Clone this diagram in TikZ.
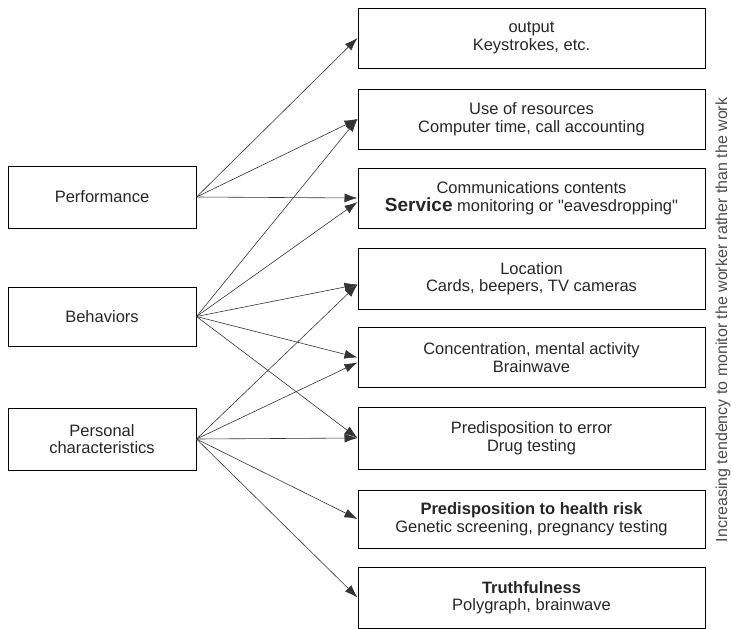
\documentclass[tikz,border=0pt]{standalone}
\usepackage{fontspec}
\setmainfont[Ligatures=NoCommon]{Liberation Sans}
\usetikzlibrary{arrows.meta}
\tikzset{
    >={Latex[length=13pt,width=9pt]},
    box/.style = {draw, line width = 1pt, minimum width = 347pt, minimum height = 60pt,
                  inner sep = 0pt, align = center, text = black!85,
                  font = \fontsize{16.5}{17.5}\selectfont},
    srcbox/.style = {box, minimum width = 188pt},
    link/.style = {->, line width = 0.6pt, black!80}
}
\begin{document}
\begin{tikzpicture}[x = 1pt, y = -1pt]
                \useasboundingbox (0,0) rectangle (731,629);
                % sources
                \node[srcbox, minimum height = 62pt] (perf) at (102,197) {Performance};
                \node[srcbox, minimum height = 59pt] (beh) at (102,316.5) {Behaviors};
                \node[srcbox, minimum height = 62pt] (pers) at (102,439) {Personal\\characteristics};
                % what is monitored
                \node[box] (out) at (531.5,38) {output\\Keystrokes, etc.};
                \node[box] (use) at (531.5,119) {Use of resources\\Computer time, call accounting};
                \node[box] (comm) at (531.5,198) {Communications contents\\{\fontsize{19}{17.5}\selectfont\bfseries Service} monitoring or \textquotedbl eavesdropping\textquotedbl};
                \node[box, minimum height = 61pt] (loc) at (531.5,278.5) {Location\\Cards, beepers, TV cameras};
                \node[box] (conc) at (531.5,357.5) {Concentration, mental activity\\Brainwave};
                \node[box, minimum height = 62pt] (err) at (531.5,438) {Predisposition to error\\Drug testing};
                \node[box, minimum height = 58pt] (health) at (531.5,519) {\textbf{Predisposition to health risk}\\Genetic screening, pregnancy testing};
                \node[box, minimum height = 61pt] (truth) at (531.5,597.5) {\textbf{Truthfulness}\\Polygraph, brainwave};
                \node[rotate = 90, text = black!70, font = \fontsize{16}{18}\selectfont] (trend) at (723,320)
                    {Increasing tendency to monitor the worker rather than the work};
                % arrows
                \begin{scope}[every path/.append style = link]
                    \draw (perf.east) -- (out.west);
                    \draw (perf.east) -- (use.west);
                    \draw (perf.east) -- (comm.west);
                    \draw (beh.east) -- (use.west);
                    \draw (beh.east) -- ([yshift = -4pt]comm.west);
                    \draw (beh.east) -- ([yshift = -6pt]loc.west);
                    \draw (beh.east) -- (conc.west);
                    \draw (beh.east) -- (err.west);
                    \draw (pers.east) -- ([yshift = -6pt]loc.west);
                    \draw (pers.east) -- ([yshift = -5pt]conc.west);
                    \draw (pers.east) -- (err.west);
                    \draw (pers.east) -- (health.west);
                    \draw (pers.east) -- (truth.west);
                \end{scope}
            \end{tikzpicture}
\end{document}
